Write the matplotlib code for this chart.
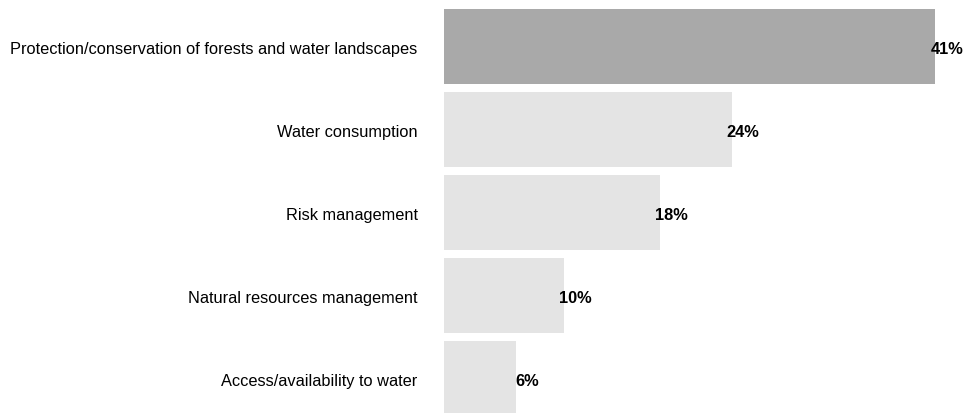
import matplotlib.pyplot as plt

plt.rcParams['font.family'] = ['Liberation Sans', 'DejaVu Sans']

categories = ["Protection/conservation of forests and water landscapes",
              "Water consumption",
              "Risk management",
              "Natural resources management",
              "Access/availability to water"]
shares = [41, 24, 18, 10, 6]
bar_colors = ['#a9a9a9', '#e4e4e4', '#e4e4e4', '#e4e4e4', '#e4e4e4']

fig = plt.figure(figsize=(9.64, 4.14), dpi=100)
ax = fig.add_axes([444 / 964, 0, 520 / 964, 1])

pos = list(range(len(categories)))
ax.barh(pos, shares, height=0.91, color=bar_colors)

for y, v in zip(pos, shares):
    ax.annotate(f"{v}%", (v, y), xytext=(8.3, -1.2), textcoords='offset points',
                ha='center', va='center', fontsize=11.8, fontweight='bold')

ax.set_yticks(pos)
ax.set_yticklabels(categories, fontsize=11.8)
ax.tick_params(axis='y', length=0, pad=19)
ax.set_xticks([])
ax.set_xlim(0, 520 / 11.98)
ax.set_ylim(4.413, -0.575)
for s in ax.spines.values():
    s.set_visible(False)

fig.savefig("out.png", dpi=100)
